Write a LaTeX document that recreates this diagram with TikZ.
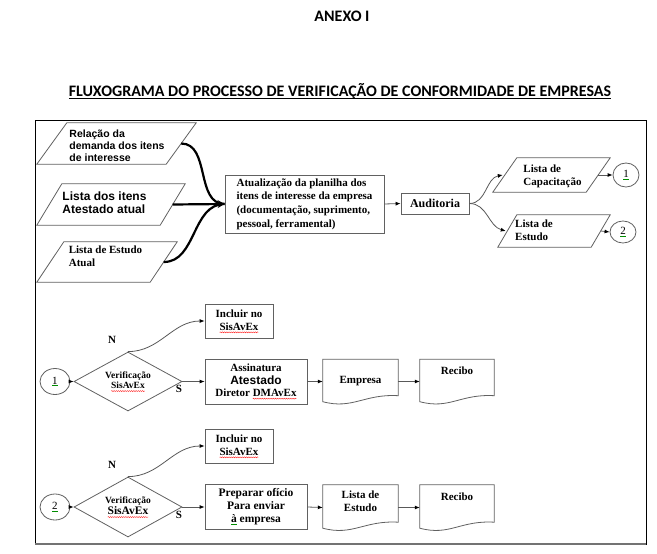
\documentclass[tikz,border=0pt]{standalone}
\usepackage{fontspec}
\setmainfont{Liberation Serif}
\newfontfamily\arialf{Liberation Sans}
\newfontfamily\calibf{Carlito}
\usetikzlibrary{arrows.meta,shapes.geometric,decorations.pathmorphing}
\newsavebox\wavebox
\newcommand\redwave[1]{\sbox\wavebox{#1}\rlap{\usebox\wavebox}\tikz[baseline=0pt,x=1pt,y=1pt]{\useasboundingbox (0,0) rectangle (\wd\wavebox,1);\draw[red, line width=0.35pt, decorate, decoration={snake, amplitude=0.5pt, segment length=2.2pt}] (0,-2.2) -- (\wd\wavebox,-2.2);}}
\newcommand\thul[1]{\sbox\wavebox{#1}\rlap{\usebox\wavebox}\rule[-2.6pt]{\wd\wavebox}{1.2pt}}
\newcommand\gul[1]{\textcolor{green!55!black}{\underline{\textcolor{black}{#1}}}}
\newcommand\tfs[2]{\fontsize{#1}{#2}\selectfont\bfseries}
\newcommand\tabl[1]{\begin{tabular}{@{}l@{}}#1\end{tabular}}
\newcommand\tabc[1]{\begin{tabular}{@{}c@{}}#1\end{tabular}}
\newcommand\parashape[2]{\draw[shp] (#1.south west) -- ([xshift=#2]#1.north west) -- (#1.north east) -- ([xshift=-#2]#1.south east) -- cycle;}
\newcommand\docshape[1]{\draw[shp] ([yshift=2pt]#1.south west) -- (#1.north west) -- (#1.north east) -- ([yshift=8pt]#1.south east) .. controls ([xshift=-34pt,yshift=10pt]#1.south east) and ([xshift=30pt,yshift=-6pt]#1.south west) .. ([yshift=2pt]#1.south west) -- cycle;}
\tikzset{
 shp/.style={draw=black!62, line width=0.8pt},
 ghost/.style={rectangle, inner sep=0pt},
 boxr/.style={shp, rectangle, inner sep=0pt},
 txt/.style={inner sep=0pt},
 arr/.style={draw=black!65, line width=0.8pt, -{Latex[length=5pt,width=4pt,color=black]}},
 bigline/.style={draw=black, line width=2.2pt},
 cir/.style={shp, ellipse, inner sep=0pt},
 dia/.style={shp, diamond, inner sep=0pt, aspect=1.83},
}
\begin{document}
\begin{tikzpicture}[x=1pt,y=-1pt]
\useasboundingbox (0,0) rectangle (657,554);
\fill[white] (0,0) rectangle (657,554);
% titles
\node[txt] (anexo) at (342,16) {\calibf\tfs{16}{19}ANEXO I};
\node[txt] (titulo) at (340,91) {\calibf\tfs{16}{19}\thul{FLUXOGRAMA DO PROCESSO DE VERIFICAÇÃO DE CONFORMIDADE DE EMPRESAS}};
% frame
\draw[black, line width=0.9pt] (35,120) rectangle (646,544);
\draw[black!55, line width=1.6pt] (35,544) -- (646,544);
% inputs
\node[ghost, minimum width=159pt, minimum height=41pt] (p1) at (116.5,143.5) {};
\parashape{p1}{30pt}
\node[txt] (p1t) at (117,147) {\arialf\tfs{10.5}{12}\tabl{Relação da\\demanda dos itens\\de interesse}};
\node[ghost, minimum width=148pt, minimum height=41pt] (p2) at (111,204.5) {};
\parashape{p2}{25pt}
\node[txt] (p2t) at (104.5,204.5) {\arialf\tfs{12}{13.5}\tabl{Lista dos itens\\Atestado atual}};
\node[ghost, minimum width=140pt, minimum height=40pt] (p3) at (107,262) {};
\parashape{p3}{27pt}
\node[txt] (p3t) at (105.5,257.5) {\tfs{11}{13}\tabl{Lista de Estudo\\Atual}};
% main box
\node[boxr, minimum width=159pt, minimum height=58pt] (atu) at (304.5,204) {\tfs{11}{13.7}\tabl{Atualização da planilha dos\\itens de interesse da empresa\\(documentação, suprimento,\\pessoal, ferramental)}};
\node[boxr, minimum width=68pt, minimum height=21pt] (aud) at (435,203.5) {\tfs{12}{14}Auditoria};
\node[ghost, minimum width=117pt, minimum height=34pt] (lc) at (551.5,175) {};
\parashape{lc}{24pt}
\node[txt] (lct) at (552.5,176.5) {\tfs{11}{13}\tabl{Lista de\\Capacitação}};
\node[ghost, minimum width=112pt, minimum height=32pt] (le) at (554,231) {};
\parashape{le}{19pt}
\node[txt] (let) at (534,231) {\tfs{11}{13}\tabl{Lista de\\Estudo}};
\node[cir, minimum width=26pt, minimum height=24pt] (c1) at (626,175) {\fontsize{11}{13}\selectfont\gul{1}};
\node[cir, minimum width=26pt, minimum height=22pt] (c2) at (623,232) {\fontsize{11}{13}\selectfont\gul{2}};
% connectors top
\draw[bigline] ([xshift=-15pt]p1.east) to[out=0,in=180] (atu.west);
\draw[bigline] ([xshift=-13.5pt]p3.east) to[out=0,in=180] (atu.west);
\draw[bigline, -{Stealth[length=7pt,width=8pt]}] ([xshift=-12.5pt]p2.east) -- (atu.west);
\draw[arr] (atu.east) -- (aud.west);
\draw[arr] (aud.east) to[out=0,in=190] ([xshift=10pt]lc.west);
\draw[arr] (aud.east) to[out=0,in=165] ([xshift=8pt]le.west);
\draw[arr] ([xshift=-12pt]lc.east) -- (c1.west);
\draw[arr] ([xshift=-9.5pt]le.east) -- (c2.west);
% section 1
\node[cir, minimum width=30pt, minimum height=26pt] (c1b) at (55,381.5) {\fontsize{11}{13}\selectfont\gul{1}};
\node[dia, minimum width=108pt, minimum height=59pt] (d1) at (128,381.5) {\tfs{9.5}{10.5}\tabc{Verificação\\\redwave{SisAvEx}}};
\node[txt] (n1) at (112,340) {\tfs{11}{13}N};
\node[txt] (s1) at (179,389) {\tfs{11}{13}S};
\node[boxr, minimum width=68pt, minimum height=34pt] (inc1) at (239,321) {\tfs{11}{13}\tabc{Incluir no\\\redwave{SisAvEx}}};
\node[boxr, minimum width=102pt, minimum height=45pt] (ass) at (256,381.5) {\tfs{11}{12.5}\tabc{Assinatura\\{\arialf\fontsize{12}{12.5}\selectfont Atestado}\\Diretor \redwave{DMAvEx}}};
\node[ghost, minimum width=75pt, minimum height=44pt] (emp) at (360.5,381.5) {\tfs{11}{13}Empresa};
\docshape{emp}
\node[ghost, minimum width=74pt, minimum height=44pt] (rec1) at (457,381.5) {};
\docshape{rec1}
\node[txt] (rec1t) at (457,371) {\tfs{11}{13}Recibo};
\draw[arr] (c1b.east) -- (d1.west);
\draw[arr] (d1.north) to[out=0,in=180] (inc1.west);
\draw[arr] (d1.east) -- (ass.west);
\draw[arr] (ass.east) -- (emp.west);
\draw[arr] (emp.east) -- (rec1.west);
% section 2
\node[cir, minimum width=30pt, minimum height=26pt] (c2b) at (55,507) {\fontsize{11}{13}\selectfont\gul{2}};
\node[dia, minimum width=108pt, minimum height=60pt] (d2) at (128,507) {\tfs{9.5}{11}\tabc{Verificação\\{\tfs{11.5}{13}\redwave{SisAvEx}}}};
\node[txt] (n2) at (112,465) {\tfs{11}{13}N};
\node[txt] (s2) at (179,515) {\tfs{11}{13}S};
\node[boxr, minimum width=68pt, minimum height=34pt] (inc2) at (239,446) {\tfs{11}{13}\tabc{Incluir no\\\redwave{SisAvEx}}};
\node[boxr, minimum width=102pt, minimum height=45pt] (prep) at (256,507) {\tfs{11.5}{13}\tabc{Preparar ofício\\Para enviar\\\gul{à} empresa}};
\node[ghost, minimum width=75pt, minimum height=45pt] (le2) at (360.5,507.5) {};
\docshape{le2}
\node[txt] (le2t) at (360.5,502) {\tfs{11}{13}\tabc{Lista de\\Estudo}};
\node[ghost, minimum width=74pt, minimum height=45pt] (rec2) at (457,507.5) {};
\docshape{rec2}
\node[txt] (rec2t) at (457,497) {\tfs{11}{13}Recibo};
\draw[arr] (c2b.east) -- (d2.west);
\draw[arr] (d2.north) to[out=0,in=180] (inc2.west);
\draw[arr] (d2.east) -- (prep.west);
\draw[arr] (prep.east) -- (le2.west);
\draw[arr] (le2.east) -- (rec2.west);
\end{tikzpicture}
\end{document}
